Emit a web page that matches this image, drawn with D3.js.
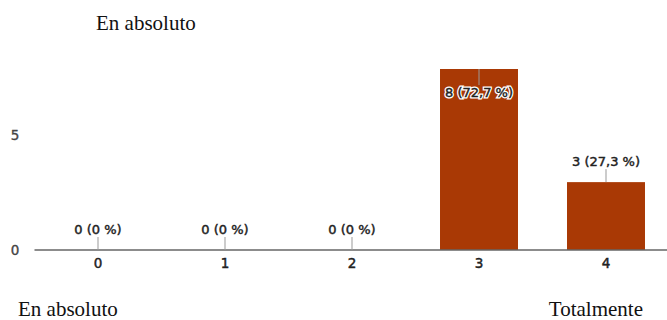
<!DOCTYPE html>
<html><head><meta charset="utf-8">
<script src="https://cdn.jsdelivr.net/npm/d3@7"></script>
<style>body{margin:0;background:#fff}svg{display:block}</style>
</head><body>
<svg id="c" width="667" height="320"></svg>
<script>
const categories = ["0","1","2","3","4"];
const values = [0,0,0,8,3];
const labels = ["0 (0 %)","0 (0 %)","0 (0 %)","8 (72,7 %)","3 (27,3 %)"];
const yTicks = [0,5];
const title = "En absoluto";
const leftLabel = "En absoluto";
const rightLabel = "Totalmente";

const sans = "DejaVu Sans, sans-serif";
const serif = "Liberation Serif, serif";
const svg = d3.select("#c");
const x = d3.scaleBand().domain(categories).range([34.5, 669.5]).paddingInner(0.386).paddingOuter(0.193);
const y = d3.scaleLinear().domain([0, 8]).range([250, 69]);

svg.append("text").attr("x", 96).attr("y", 30).attr("font-family", serif)
  .attr("font-size", 21).attr("fill", "#111").text(title);
svg.append("text").attr("x", 18).attr("y", 316).attr("font-family", serif)
  .attr("font-size", 21).attr("fill", "#111").text(leftLabel);
svg.append("text").attr("x", 643).attr("y", 316).attr("text-anchor", "end").attr("font-family", serif)
  .attr("font-size", 21).attr("fill", "#111").text(rightLabel);

// y tick labels
svg.selectAll(".yt").data(yTicks).join("text").attr("class","yt")
  .attr("x", 15).attr("y", d => y(d)).attr("dy", d => d === 0 ? "0.4em" : "0.2em")
  .attr("text-anchor", "middle").attr("font-family", sans)
  .attr("font-size", 13.5).attr("fill", "#444").attr("stroke", "#444").attr("stroke-width", 0.35).text(d => d);

// bars
svg.selectAll(".bar").data(values).join("rect").attr("class","bar")
  .attr("x", (d,i) => x(categories[i])).attr("width", x.bandwidth())
  .attr("y", d => y(d)).attr("height", d => y(0) - y(d)).attr("fill", "#a93905");

// x axis
const xa = svg.append("g").attr("transform", `translate(0,${y(0)})`)
  .call(d3.axisBottom(x).tickSize(0).tickPadding(8));
xa.select(".domain").attr("stroke", "#666").attr("stroke-width", 1.3).attr("d", "M34.5,0H667");
xa.selectAll("text").attr("font-family", sans).attr("font-size", 13.5)
  .attr("fill", "#222").attr("stroke", "#222").attr("stroke-width", 0.45);

// data labels with leader lines
values.forEach((v, i) => {
  const cx = x(categories[i]) + x.bandwidth() / 2;
  const inside = v === 8;
  const ly = inside ? y(v) + 23 : y(v) - 21;
  const l1 = inside ? y(v) : y(v) - 13;
  const l2 = inside ? y(v) + 16 : y(v);
  svg.append("line").attr("x1", cx).attr("x2", cx).attr("y1", l1).attr("y2", l2)
    .attr("stroke", "#999").attr("stroke-width", 1);
  if (inside) {
    svg.append("text").attr("x", cx).attr("y", ly).attr("dy", "0.35em").attr("text-anchor", "middle")
      .attr("font-family", sans).attr("font-size", 13)
      .attr("fill", "#fff").attr("stroke", "#fff").attr("stroke-width", 3).text(labels[i]);
  }
  svg.append("text").attr("x", cx).attr("y", ly).attr("dy", "0.35em").attr("text-anchor", "middle")
    .attr("font-family", sans).attr("font-size", 13)
    .attr("fill", "#222").attr("stroke", "#222").attr("stroke-width", 0.45).text(labels[i]);
});
</script>
</body></html>
